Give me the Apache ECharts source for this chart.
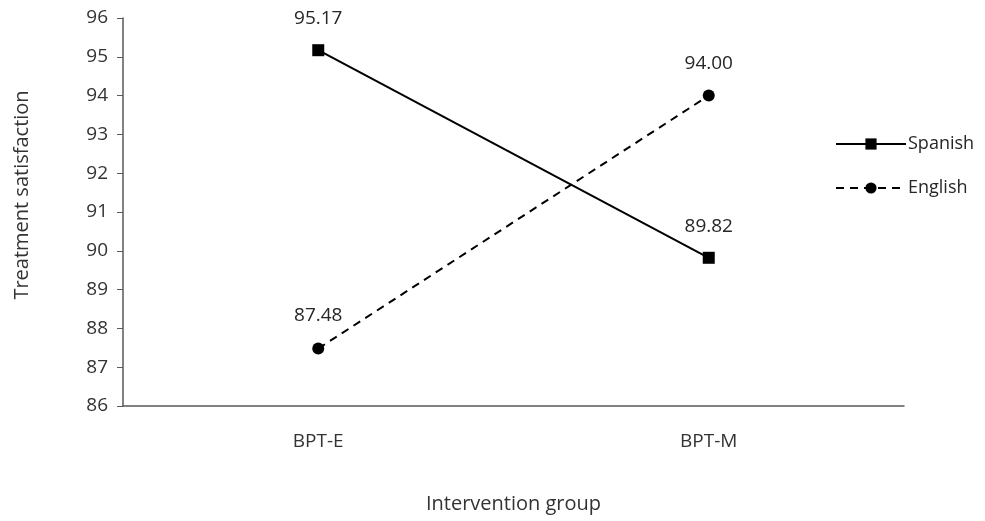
<!DOCTYPE html>
<html><head><meta charset="utf-8">
<script src="https://cdn.jsdelivr.net/npm/echarts@6/dist/echarts.min.js"></script>
<style>html,body{margin:0;padding:0;background:#fff}#c{width:985px;height:521px}</style>
</head><body><div id="c"></div>
<script>
const categories = ['BPT-E', 'BPT-M'];
const spanish = [95.17, 89.82];
const english = [87.48, 94.00];
const yMin = 86, yMax = 96, yStep = 1;
const font = '"Open Sans", sans-serif';
const chart = echarts.init(document.getElementById('c'));
chart.setOption({
  animation: false,
  backgroundColor: '#fff',
  grid: { left: 123, right: 81, top: 18, bottom: 115 },
  legend: {
    orient: 'vertical', left: 830, top: 129, itemWidth: 70, itemHeight: 14, itemGap: 24,
    textStyle: { fontFamily: font, fontSize: 18, lineHeight: 20, color: '#262626', padding: [0,0,0,-3] },
    data: ['Spanish', 'English']
  },
  xAxis: {
    type: 'category', data: categories, boundaryGap: true,
    axisLine: { lineStyle: { color: '#595959', width: 1.5 } },
    axisTick: { show: false },
    axisLabel: { fontFamily: font, fontSize: 19, color: '#333', margin: 26 },
    name: 'Intervention group', nameLocation: 'middle', nameGap: 88,
    nameTextStyle: { fontFamily: font, fontSize: 20, color: '#333' }
  },
  yAxis: {
    type: 'value', min: yMin, max: yMax, interval: yStep,
    axisLine: { show: true, lineStyle: { color: '#595959', width: 1.5 } },
    axisTick: { show: true, length: 6, lineStyle: { color: '#595959' } },
    splitLine: { show: false },
    axisLabel: { fontFamily: font, fontSize: 19, color: '#333', margin: 15 }
  },
  graphic: [{
    type: 'text', x: 22, y: 195, rotation: Math.PI / 2,
    style: { text: 'Treatment satisfaction', fontFamily: font, fontSize: 20, fill: '#333', align: 'center', verticalAlign: 'middle' }
  }],
  series: [
    {
      name: 'Spanish', type: 'line', data: spanish,
      symbol: 'rect', symbolSize: 12,
      lineStyle: { color: '#000', width: 2, type: 'solid' },
      itemStyle: { color: '#000' },
      label: { show: true, position: 'top', distance: 16, fontFamily: font, fontSize: 19, color: '#262626',
        formatter: p => p.value.toFixed(2) }
    },
    {
      name: 'English', type: 'line', data: english,
      symbol: 'circle', symbolSize: 12,
      lineStyle: { color: '#000', width: 2, type: [8, 6] },
      itemStyle: { color: '#000' },
      label: { show: true, position: 'top', distance: 17, fontFamily: font, fontSize: 19, color: '#262626',
        formatter: p => p.value.toFixed(2) }
    }
  ]
});
</script></body></html>
